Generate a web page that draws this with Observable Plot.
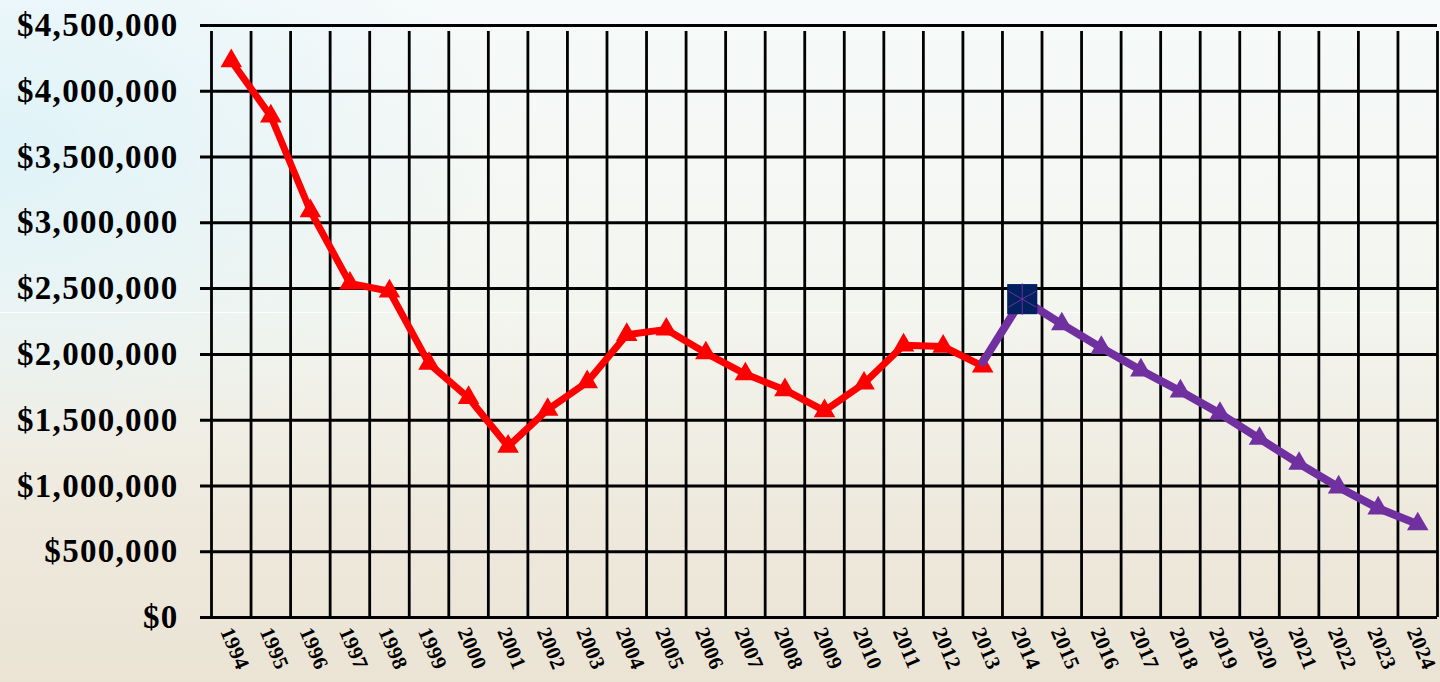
<!DOCTYPE html>
<html>
<head>
<meta charset="utf-8">
<script src="https://cdn.jsdelivr.net/npm/d3@7"></script>
<script src="https://cdn.jsdelivr.net/npm/@observablehq/plot@0.6"></script>
<style>
  html, body { margin: 0; padding: 0; width: 1440px; height: 682px; overflow: hidden; }
  body {
    position: relative;
    background:
      radial-gradient(ellipse 700px 450px at 0px 150px, rgba(220,242,249,0.85), rgba(220,242,249,0) 70%),
      linear-gradient(to bottom, #f6fafa 0%, #f3f5ef 45%, #eee9dd 75%, #ebe4d5 100%);
  }
  #chart { position: absolute; left: 0; top: 0; }
  .deco { position: absolute; left: 0; top: 312px; width: 1440px; height: 1px; background: rgba(255,255,255,0.9); }
  g[aria-label="y-axis tick label"] text { letter-spacing: 1.3px; }
  g[aria-label="x-axis tick label"] text { letter-spacing: 0.3px; }
</style>
</head>
<body>
<div class="deco"></div>
<div id="chart"></div>
<script>
const years = d3.range(1994, 2025);
const yTicks = [0, 500000, 1000000, 1500000, 2000000, 2500000, 3000000, 3500000, 4000000, 4500000];

const actualYears = [1994,1995,1996,1997,1998,1999,2000,2001,2002,2003,2004,2005,2006,2007,2008,2009,2010,2011,2012,2013];
const actualValues = [4230000,3810000,3090000,2540000,2480000,1930000,1670000,1300000,1580000,1790000,2150000,2190000,2010000,1850000,1730000,1570000,1780000,2070000,2060000,1910000];

const forecastYears = [2013,2014,2015,2016,2017,2018,2019,2020,2021,2022,2023,2024];
const forecastValues = [1940000,2420000,2230000,2050000,1880000,1720000,1550000,1360000,1170000,990000,830000,710000];

const highlightYear = [2014];
const highlightValue = [2420000];

const actual = actualYears.map((y, i) => ({year: y, value: actualValues[i]}));
const forecast = forecastYears.map((y, i) => ({year: y, value: forecastValues[i]}));
const highlight = highlightYear.map((y, i) => ({year: y, value: highlightValue[i]}));
const boundaries = years.map(y => y - 0.5).concat([years[years.length - 1] + 0.5]);

const plot = Plot.plot({
  width: 1440,
  height: 682,
  marginLeft: 211,
  marginRight: 3,
  marginTop: 25,
  marginBottom: 65,
  style: {fontFamily: "'Liberation Serif', 'Times New Roman', serif", fontWeight: "bold", background: "transparent", color: "#000", overflow: "visible"},
  x: {type: "linear", domain: [1993.5, 2024.5]},
  y: {domain: [0, 4500000]},
  marks: [
    Plot.ruleY(yTicks, {stroke: "#000", strokeWidth: 3, strokeOpacity: 1, insetLeft: -11}),
    Plot.ruleX(boundaries, {y1: 0, y2: 4500000, stroke: "#000", strokeWidth: 2.8, strokeOpacity: 1, insetBottom: -6}),
    Plot.axisY({ticks: yTicks, tickSize: 0, tickPadding: 33, fontSize: 33, tickFormat: d3.format("$,"), label: null, fontWeight: "bold"}),
    Plot.axisX({ticks: years, tickSize: 0, tickPadding: 11, dx: -5, fontSize: 21, tickRotate: 67, tickFormat: d => String(d), label: null}),
    Plot.line(actual, {x: "year", y: "value", stroke: "#ff0000", strokeWidth: 7}),
    Plot.dot(actual, {x: "year", y: "value", symbol: "triangle", fill: "#ff0000", r: 8}),
    Plot.line(forecast, {x: "year", y: "value", stroke: "#7030a0", strokeWidth: 8}),
    Plot.dot(forecast.slice(1), {x: "year", y: "value", symbol: "triangle", fill: "#7030a0", r: 8}),
    Plot.dot(highlight, {x: "year", y: "value", symbol: "square", fill: "#002060", r: 17}),
    Plot.dot(highlight, {x: "year", y: "value", symbol: "asterisk", stroke: "#7030a0", strokeWidth: 1, r: 15})
  ]
});
document.getElementById("chart").appendChild(plot);
</script>
</body>
</html>
